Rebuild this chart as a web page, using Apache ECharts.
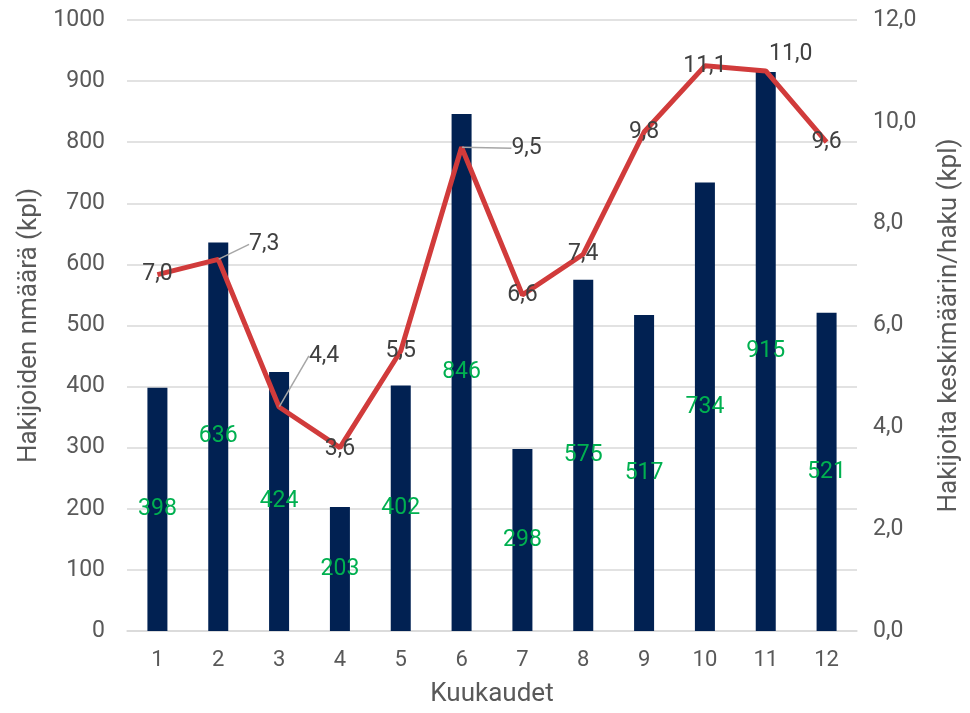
<!DOCTYPE html>
<html><head><meta charset="utf-8">
<script src="https://cdn.jsdelivr.net/npm/echarts@6/dist/echarts.min.js"></script>
<style>html,body{margin:0;padding:0;background:#fff}#c{width:970px;height:713px}</style>
</head><body><div id="c"></div>
<script>
var categories = ['1','2','3','4','5','6','7','8','9','10','11','12'];
var applicants = [398, 636, 424, 203, 402, 846, 298, 575, 517, 734, 915, 521];
var avgPerSearch = [7.0, 7.3, 4.4, 3.6, 5.5, 9.5, 6.6, 7.4, 9.8, 11.1, 11.0, 9.6];
var leftTicks = {min: 0, max: 1000, interval: 100};
var rightTicks = {min: 0, max: 12, interval: 2};

var labelMoves = {1: [46, -15], 2: [45, -51], 3: [0, 2], 5: [65, 1], 10: [25, -17]};
var leaderIdx = [1, 2, 5];

var lineData = avgPerSearch.map(function (v, i) {
  return {value: v, labelLine: {show: leaderIdx.indexOf(i) >= 0}};
});

var chart = echarts.init(document.getElementById('c'));
var txt = '#595959';
var font = 'Roboto';
chart.setOption({
  animation: false,
  textStyle: {fontFamily: font},
  grid: {left: 127, right: 109, top: 20, bottom: 82},
  xAxis: {
    type: 'category', data: categories,
    axisLine: {lineStyle: {color: '#d9d9d9', width: 1.5}},
    axisTick: {show: false},
    axisLabel: {color: txt, fontSize: 22, margin: 18, fontFamily: font},
    name: 'Kuukaudet', nameLocation: 'middle', nameGap: 50,
    nameTextStyle: {color: txt, fontSize: 26, fontFamily: font}
  },
  yAxis: [{
    type: 'value', min: leftTicks.min, max: leftTicks.max, interval: leftTicks.interval,
    axisLine: {show: false}, axisTick: {show: false},
    splitLine: {lineStyle: {color: '#d9d9d9', width: 1.5}},
    axisLabel: {color: txt, fontSize: 23, margin: 22, fontFamily: font,
      formatter: function (v) { return String(v); }},
    name: 'Hakijoiden nmäärä (kpl)', nameLocation: 'middle', nameGap: 80, nameRotate: 90,
    nameTextStyle: {color: txt, fontSize: 26, fontFamily: font}
  }, {
    type: 'value', min: rightTicks.min, max: rightTicks.max, interval: rightTicks.interval,
    axisLine: {show: false}, axisTick: {show: false}, splitLine: {show: false},
    axisLabel: {color: txt, fontSize: 23, margin: 16, fontFamily: font,
      formatter: function (v) { return v.toFixed(1).replace('.', ','); }},
    name: 'Hakijoita keskimäärin/haku (kpl)', nameLocation: 'middle', nameGap: 79, nameRotate: 90,
    nameTextStyle: {color: txt, fontSize: 26, fontFamily: font, verticalAlign: 'top'}
  }],
  series: [{
    type: 'bar', data: applicants, barWidth: 20, z: 1,
    itemStyle: {color: '#012152'},
    label: {show: true, position: 'inside', color: '#00b050', fontSize: 23, fontFamily: font}
  }, {
    type: 'line', yAxisIndex: 1, data: lineData, z: 3,
    symbol: 'circle', symbolSize: 1, showSymbol: true,
    itemStyle: {color: 'rgba(0,0,0,0)'},
    lineStyle: {color: '#d13b3b', width: 5},
    label: {show: true, position: 'inside', color: '#404040', fontSize: 23, fontFamily: font,
      formatter: function (p) { return p.value.toFixed(1).replace('.', ','); }},
    labelLine: {show: false, lineStyle: {color: '#a6a6a6', width: 1.5}},
    labelLayout: function (p) {
      var m = labelMoves[p.dataIndex];
      if (!m) return {};
      return {dx: m[0], dy: m[1]};
    }
  }]
});
</script></body></html>
